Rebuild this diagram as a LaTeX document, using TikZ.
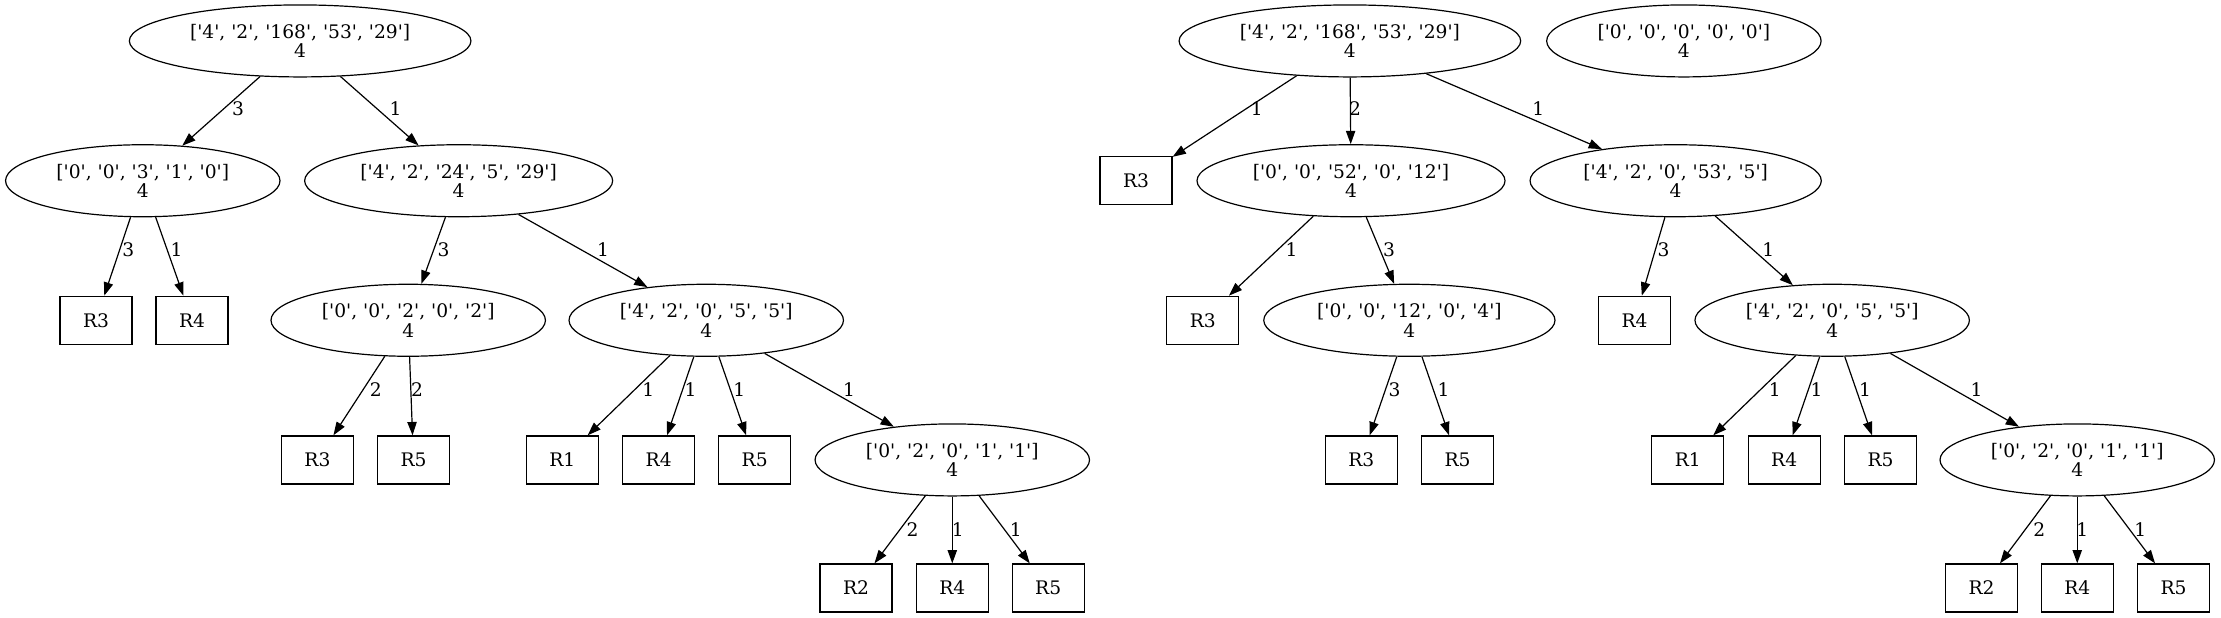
\documentclass[tikz,border=0pt]{standalone}
\usepackage{fontspec}
\setmainfont{DejaVu Serif}[Ligatures=TeXOff]
\usepackage{tikz}
\usetikzlibrary{shapes.geometric, arrows.meta}

\tikzset{
  state/.style={draw, ellipse, align=center, inner xsep=8pt, inner ysep=0pt, minimum height=54pt},
  leaf/.style={draw, rectangle, minimum width=54pt, minimum height=36pt, inner sep=0pt},
  edge/.style={line width=0.9pt, -{Triangle[length=10pt, width=7pt]}},
  elbl/.style={inner sep=0pt},
}

\begin{document}
\begin{tikzpicture}[x=1.0624pt, y=-1.0624pt, line width=0.9pt, font=\fontsize{14}{14.5}\selectfont]
	\useasboundingbox (0,0) rectangle (1568,436);

	% left tree
	\node[state] (l) at (211.9,28.9) {['4', '2', '168', '53', '29']\\4};
	\node[state] (l1) at (100.8,127.6) {['0', '0', '3', '1', '0']\\4};
	\node[state] (l2) at (323.8,127.6) {['4', '2', '24', '5', '29']\\4};
	\node[leaf] (l1a) at (67.8,226.1) {R3};
	\node[leaf] (l1b) at (135.6,226.1) {R4};
	\node[state] (l2a) at (288.2,226.1) {['0', '0', '2', '0', '2']\\4};
	\node[state] (l2b) at (498.6,226.1) {['4', '2', '0', '5', '5']\\4};
	\node[leaf] (l2aa) at (224.1,324.7) {R3};
	\node[leaf] (l2ab) at (291.9,324.7) {R5};
	\node[leaf] (l2ba) at (397,324.7) {R1};
	\node[leaf] (l2bb) at (465,324.7) {R4};
	\node[leaf] (l2bc) at (532.8,324.7) {R5};
	\node[state] (l2bd) at (672.3,324.7) {['0', '2', '0', '1', '1']\\4};
	\node[leaf] (l2bda) at (604.3,415.1) {R2};
	\node[leaf] (l2bdb) at (672.3,415.1) {R4};
	\node[leaf] (l2bdc) at (740,415.1) {R5};

	\draw[edge] (l) -- (l1) node[elbl] at (168,77) {3};
	\draw[edge] (l) -- (l2) node[elbl] at (279.3,77) {1};
	\draw[edge] (l1) -- (l1a) node[elbl] at (90.6,176.5) {3};
	\draw[edge] (l1) -- (l1b) node[elbl] at (124.7,176.5) {1};
	\draw[edge] (l2) -- (l2a) node[elbl] at (313.2,176.5) {3};
	\draw[edge] (l2) -- (l2b) node[elbl] at (425.7,176.5) {1};
	\draw[edge] (l2a) -- (l2aa) node[elbl] at (265.3,275) {2};
	\draw[edge] (l2a) -- (l2ab) node[elbl] at (294.4,275) {2};
	\draw[edge] (l2b) -- (l2ba) node[elbl] at (457.7,275) {1};
	\draw[edge] (l2b) -- (l2bb) node[elbl] at (487.6,275) {1};
	\draw[edge] (l2b) -- (l2bc) node[elbl] at (522,275) {1};
	\draw[edge] (l2b) -- (l2bd) node[elbl] at (599.4,275) {1};
	\draw[edge] (l2bd) -- (l2bda) node[elbl] at (644.2,373.7) {2};
	\draw[edge] (l2bd) -- (l2bdb) node[elbl] at (676.2,373.7) {1};
	\draw[edge] (l2bd) -- (l2bdc) node[elbl] at (717.2,373.7) {1};

	% right tree
	\node[state] (r) at (953,28.9) {['4', '2', '168', '53', '29']\\4};
	\node[state] (z) at (1188.8,28.9) {['0', '0', '0', '0', '0']\\4};
	\node[leaf] (r1) at (802,127.6) {R3};
	\node[state] (r2) at (953.8,127.6) {['0', '0', '52', '0', '12']\\4};
	\node[state] (r3) at (1183,127.6) {['4', '2', '0', '53', '5']\\4};
	\node[leaf] (r2a) at (849.2,226.1) {R3};
	\node[state] (r2b) at (995,226.1) {['0', '0', '12', '0', '4']\\4};
	\node[leaf] (r3a) at (1154,226.1) {R4};
	\node[state] (r3b) at (1293.5,226.1) {['4', '2', '0', '5', '5']\\4};
	\node[leaf] (r2ba) at (961,324.7) {R3};
	\node[leaf] (r2bb) at (1029,324.7) {R5};
	\node[leaf] (r3ba) at (1191.6,324.7) {R1};
	\node[leaf] (r3bb) at (1259.6,324.7) {R4};
	\node[leaf] (r3bc) at (1327.6,324.7) {R5};
	\node[state] (r3bd) at (1466.5,324.7) {['0', '2', '0', '1', '1']\\4};
	\node[leaf] (r3bda) at (1399,415.1) {R2};
	\node[leaf] (r3bdb) at (1466.5,415.1) {R4};
	\node[leaf] (r3bdc) at (1534.5,415.1) {R5};

	\draw[edge] (r) -- (r1) node[elbl] at (887.3,77) {1};
	\draw[edge] (r) -- (r2) node[elbl] at (956.6,77) {2};
	\draw[edge] (r) -- (r3) node[elbl] at (1086,77) {1};
	\draw[edge] (r2) -- (r2a) node[elbl] at (911.8,176.5) {1};
	\draw[edge] (r2) -- (r2b) node[elbl] at (980.7,176.5) {3};
	\draw[edge] (r3) -- (r3a) node[elbl] at (1174.4,176.5) {3};
	\draw[edge] (r3) -- (r3b) node[elbl] at (1248.4,176.5) {1};
	\draw[edge] (r2b) -- (r2ba) node[elbl] at (984.5,275) {3};
	\draw[edge] (r2b) -- (r2bb) node[elbl] at (1019.2,275) {1};
	\draw[edge] (r3b) -- (r3ba) node[elbl] at (1253,275) {1};
	\draw[edge] (r3b) -- (r3bb) node[elbl] at (1282.5,275) {1};
	\draw[edge] (r3b) -- (r3bc) node[elbl] at (1316.7,275) {1};
	\draw[edge] (r3b) -- (r3bd) node[elbl] at (1395.4,275) {1};
	\draw[edge] (r3bd) -- (r3bda) node[elbl] at (1439.7,373.7) {2};
	\draw[edge] (r3bd) -- (r3bdb) node[elbl] at (1470,373.7) {1};
	\draw[edge] (r3bd) -- (r3bdc) node[elbl] at (1511,373.7) {1};

\end{tikzpicture}
\end{document}
